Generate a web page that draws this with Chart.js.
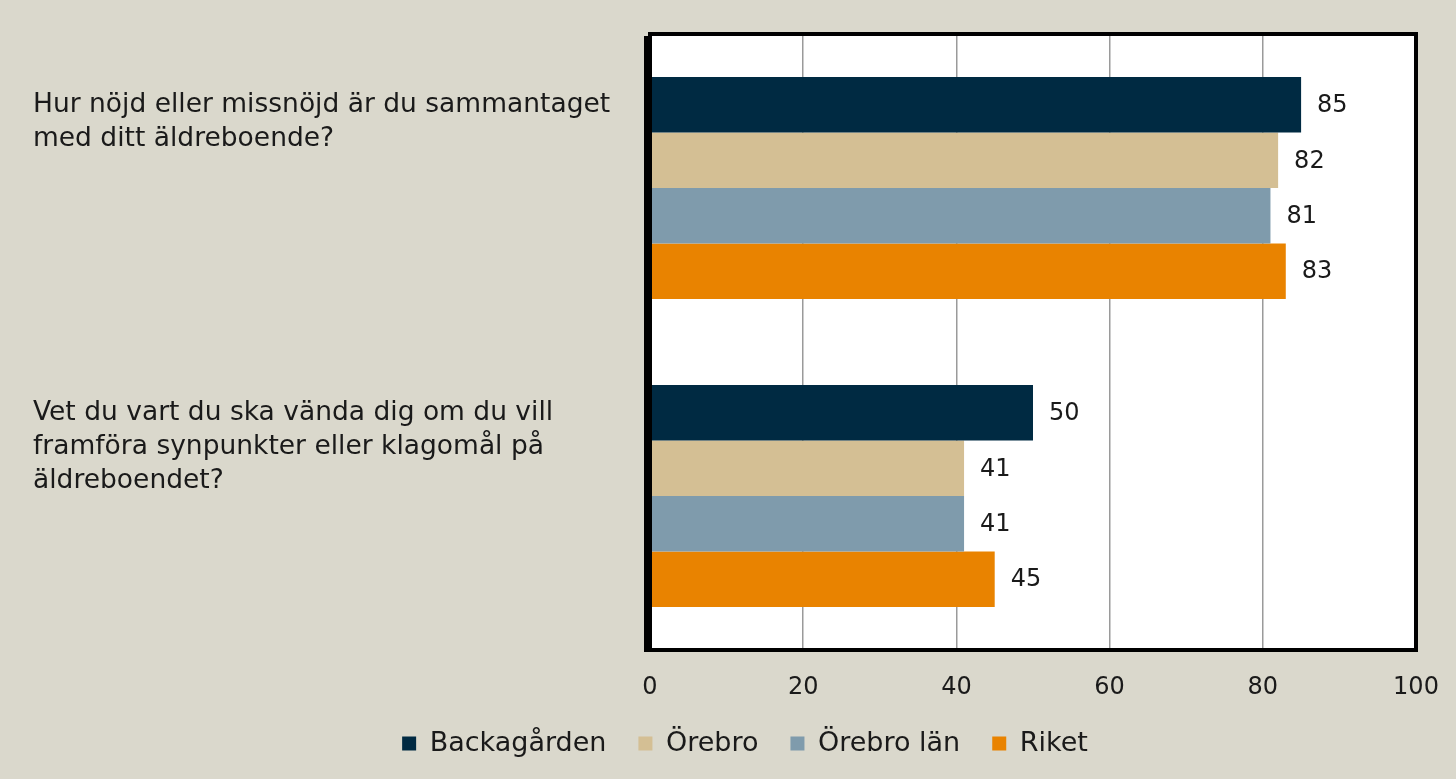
<!DOCTYPE html>
<html>
<head>
<meta charset="utf-8">
<script src="https://cdn.jsdelivr.net/npm/chart.js@4.4.1/dist/chart.umd.min.js"></script>
<style>
  html, body { margin: 0; padding: 0; background: #DAD8CC; }
  #wrap { width: 1456px; height: 779px; }
</style>
</head>
<body>
<div id="wrap"><canvas id="chart"></canvas></div>
<script>
// Frågor (kategorier), uppdelade i rader
const categories = [
  ['Hur nöjd eller missnöjd är du sammantaget', 'med ditt äldreboende?'],
  ['Vet du vart du ska vända dig om du vill', 'framföra synpunkter eller klagomål på', 'äldreboendet?'],
];
const seriesNames = ['Backagården', 'Örebro', 'Örebro län', 'Riket'];
const seriesColors = ['#002A42', '#D4BF94', '#7F9BAC', '#E98300'];

// Andel (%) per serie
const backagarden = [85, 50];
const orebro = [82, 41];
const orebroLan = [81, 41];
const riket = [83, 45];

const xTicks = [0, 20, 40, 60, 80, 100];

const FONT = '"DejaVu Sans", sans-serif';
const TEXT = '#1a1a1a';

// Bakgrund och vit diagramyta
const backgroundPlugin = {
  id: 'background',
  beforeDraw(chart) {
    const { ctx, chartArea: a } = chart;
    ctx.save();
    ctx.fillStyle = '#DAD8CC';
    ctx.fillRect(0, 0, chart.width, chart.height);
    ctx.fillStyle = '#FFFFFF';
    ctx.fillRect(a.left, a.top, a.right - a.left, a.bottom - a.top);
    ctx.restore();
  },
};

// Förklaringen ligger centrerad lite till höger
const legendShiftPlugin = {
  id: 'legendShift',
  afterLayout(chart) {
    if (chart.legend) {
      chart.legend.left += 37;
      chart.legend.right += 37;
    }
  },
};

// Svart ram runt diagramytan
const framePlugin = {
  id: 'frame',
  afterDatasetsDraw(chart) {
    const { ctx, chartArea: a } = chart;
    ctx.save();
    ctx.strokeStyle = '#000';
    ctx.lineWidth = 4;
    ctx.strokeRect(a.left, a.top, a.right - a.left, a.bottom - a.top);
    ctx.fillStyle = '#000';
    ctx.fillRect(a.left - 6, a.top + 2, 7, a.bottom - a.top);
    ctx.restore();
  },
};

// Värdeetiketter och frågetexter
const labelsPlugin = {
  id: 'labels',
  afterDraw(chart) {
    const { ctx, chartArea: a } = chart;
    const yScale = chart.scales.y;
    ctx.save();
    ctx.fillStyle = TEXT;
    ctx.textBaseline = 'middle';
    ctx.textAlign = 'left';

    ctx.font = '24px ' + FONT;
    chart.data.datasets.forEach((ds, di) => {
      chart.getDatasetMeta(di).data.forEach((bar, i) => {
        ctx.fillText(String(ds.data[i]), bar.x + 16, bar.y + 1);
      });
    });

    ctx.font = '26.5px ' + FONT;
    const band = (a.bottom - a.top) / categories.length;
    categories.forEach((lines, i) => {
      const bandTop = yScale.getPixelForValue(i) - band / 2;
      lines.forEach((line, li) => {
        ctx.fillText(line, 33, bandTop + 71 + li * 34);
      });
    });
    ctx.restore();
  },
};

Chart.defaults.font.family = FONT;
Chart.defaults.font.size = 24;
Chart.defaults.color = TEXT;

const ctx = document.getElementById('chart').getContext('2d');
new Chart(ctx, {
  type: 'bar',
  data: {
    labels: categories.map((c) => c.join(' ')),
    datasets: [backagarden, orebro, orebroLan, riket].map((values, index) => ({
      label: seriesNames[index],
      data: values,
      backgroundColor: seriesColors[index],
      borderWidth: 0,
      categoryPercentage: 0.72,
      barPercentage: 1,
    })),
  },
  options: {
    indexAxis: 'y',
    animation: false,
    responsive: true,
    maintainAspectRatio: false,
    layout: { padding: { left: 0, top: 34, right: 40, bottom: 12 } },
    plugins: {
      tooltip: { enabled: false },
      legend: {
        position: 'bottom',
        labels: {
          boxWidth: 14,
          boxHeight: 14,
          padding: 32,
          color: TEXT,
          font: { size: 27 },
        },
      },
    },
    scales: {
      x: {
        min: 0,
        max: 100,
        afterBuildTicks: (scale) => {
          scale.ticks = xTicks.map((v) => ({ value: v }));
        },
        afterFit: (scale) => {
          scale.height = 48;
          scale.paddingLeft = 0;
          scale.paddingRight = 0;
        },
        ticks: { padding: 23, color: TEXT, font: { size: 24 } },
        grid: { color: '#9a9a9a', lineWidth: 1.5, drawTicks: false },
        border: { display: false },
      },
      y: {
        ticks: { display: false },
        grid: { display: false },
        border: { display: false },
        afterFit: (scale) => {
          scale.width = 650;
        },
      },
    },
  },
  plugins: [backgroundPlugin, legendShiftPlugin, framePlugin, labelsPlugin],
});
</script>
</body>
</html>
